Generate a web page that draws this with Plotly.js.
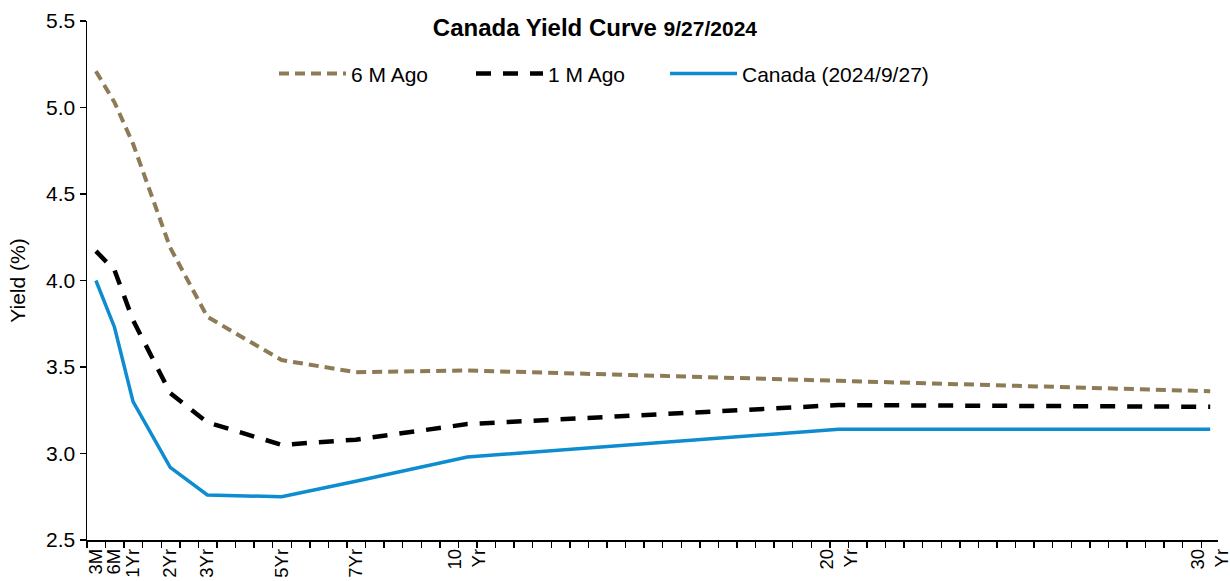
<!DOCTYPE html>
<html>
<head>
<meta charset="utf-8">
<script src="https://cdn.plot.ly/plotly-3.0.1.min.js"></script>
<style>
  html, body { margin: 0; padding: 0; background: #ffffff; }
  #chart { width: 1230px; height: 581px; }
</style>
</head>
<body>
<div id="chart"></div>
<script>
// Maturity positions (years)
const maturities = [0, 0.5, 1, 2, 3, 5, 7, 10, 20, 30];
const tickLabels = ["3M", "6M", "1Yr", "2Yr", "3Yr", "5Yr", "7Yr", "10<br>Yr", "20<br>Yr", "30<br>Yr"];

// Yields (%)
const sixMonthsAgo = [5.21, 5.03, 4.79, 4.19, 3.79, 3.54, 3.47, 3.48, 3.42, 3.36];
const oneMonthAgo  = [4.17, 4.06, 3.77, 3.35, 3.18, 3.05, 3.08, 3.17, 3.28, 3.27];
const canada       = [4.00, 3.73, 3.30, 2.92, 2.76, 2.75, 2.84, 2.98, 3.14, 3.14];

const seriesNames = ["6 M Ago", "1 M Ago", "Canada (2024/9/27)"];

const FONT = "Liberation Sans, Arial, Helvetica, sans-serif";
const PLOT_L = 87, PLOT_W = 1131;
const px2paper = p => (p - PLOT_L) / PLOT_W;

const traces = [
  {
    x: maturities, y: sixMonthsAgo, name: seriesNames[0], type: "scatter", mode: "lines",
    line: { color: "#8C7B55", width: 4, dash: "10px,6px" }, legend: "legend"
  },
  {
    x: maturities, y: oneMonthAgo, name: seriesNames[1], type: "scatter", mode: "lines",
    line: { color: "#000000", width: 4.5, dash: "15px,12px" }, legend: "legend2"
  },
  {
    x: maturities, y: canada, name: seriesNames[2], type: "scatter", mode: "lines",
    line: { color: "#0E8CD0", width: 3.5 }, legend: "legend3"
  }
];

function legendAt(leftPx) {
  return {
    orientation: "h",
    x: px2paper(leftPx), xanchor: "left",
    y: 0.898, yanchor: "middle",
    font: { family: FONT, size: 21, color: "#000000" },
    bgcolor: "rgba(0,0,0,0)",
    itemwidth: 67
  };
}

const layout = {
  width: 1230, height: 581,
  margin: { l: 87, r: 12, t: 21, b: 41, pad: 0 },
  paper_bgcolor: "#ffffff", plot_bgcolor: "#ffffff",
  font: { family: FONT, color: "#000000", size: 21 },
  title: {
    text: "<b>Canada Yield Curve <span style='font-size:21px'>9/27/2024</span></b>",
    font: { family: FONT, size: 24, color: "#000000" },
    x: 0.4837, xref: "container", xanchor: "center",
    y: 0.952, yref: "container", yanchor: "middle"
  },
  showlegend: true,
  legend: legendAt(274),
  legend2: legendAt(471),
  legend3: legendAt(665),
  xaxis: {
    range: [-0.24, 30.21],
    tickmode: "array",
    tickvals: maturities,
    ticktext: tickLabels,
    tickangle: -90,
    ticks: "",
    showgrid: false, zeroline: false,
    showline: true, linecolor: "#000000", linewidth: 1.5,
    tickfont: { family: FONT, size: 18.5, color: "#000000" },
    ticklabeloverflow: "allow",
    automargin: false,
    minor: { tickmode: "linear", tick0: -0.24, dtick: 0.5, ticks: "outside", ticklen: 6, tickwidth: 1.3, tickcolor: "#000000", showgrid: false }
  },
  yaxis: {
    range: [2.5, 5.5],
    tickmode: "linear", tick0: 2.5, dtick: 0.5,
    tickformat: ".1f",
    ticks: "outside", ticklen: 6, tickwidth: 1.3, tickcolor: "#000000",
    showgrid: false, zeroline: false,
    showline: true, linecolor: "#000000", linewidth: 1.5,
    tickfont: { family: FONT, size: 21, color: "#000000" },
    title: { text: "Yield (%)", font: { family: FONT, size: 21, color: "#000000" }, standoff: 14 },
    automargin: false
  }
};

Plotly.newPlot("chart", traces, layout, { displayModeBar: false, staticPlot: true });
</script>
</body>
</html>
